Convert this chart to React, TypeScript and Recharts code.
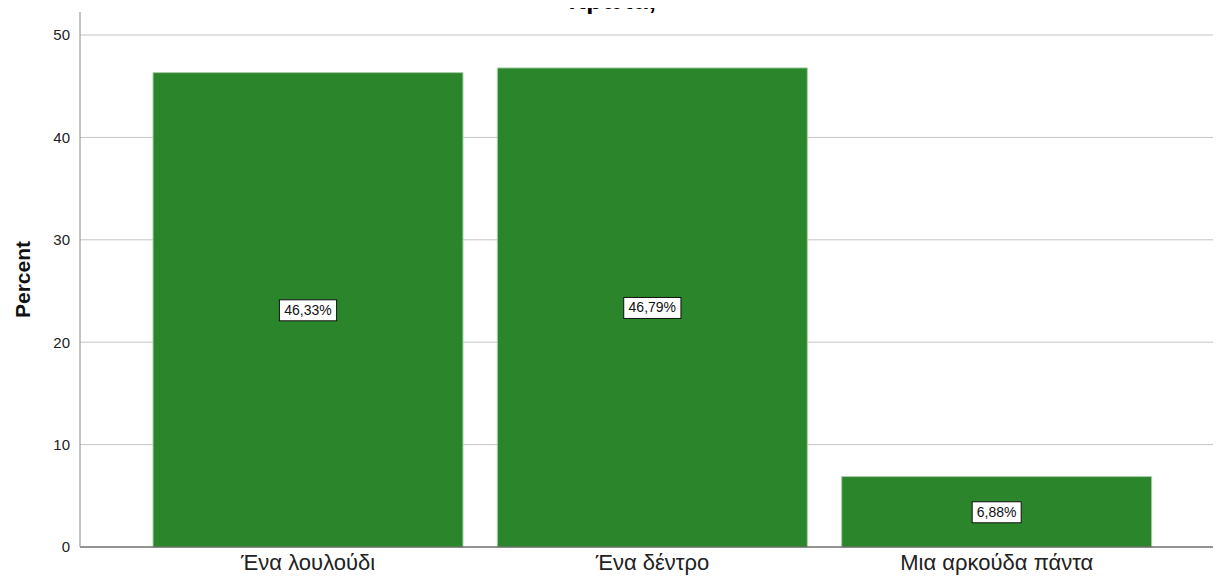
import { Bar, BarChart, CartesianGrid, LabelList, XAxis, YAxis } from "recharts";

const categories = ["Ένα λουλούδι", "Ένα δέντρο", "Μια αρκούδα πάντα"];
const percents = [46.33, 46.79, 6.88];
const yTicks = [0, 10, 20, 30, 40, 50];

const data = categories.map((name, i) => ({ name, percent: percents[i] }));

const fmt = (v: number) => v.toFixed(2).replace(".", ",") + "%";

function BoxLabel(props: any) {
  const { x, y, width, height, value } = props;
  const cx = x + width / 2;
  const cy = y + height / 2;
  const text = fmt(value);
  const w = text.length * 8.2 + 8;
  return (
    <g>
      <rect x={cx - w / 2} y={cy - 10} width={w} height={21} fill="#fff" stroke="#111" strokeWidth={1} />
      <text x={cx} y={cy + 5} textAnchor="middle" fontSize={14} fill="#111" fontFamily="Liberation Sans, Arial, sans-serif">
        {text}
      </text>
    </g>
  );
}

export default function App() {
  return (
    <div
      style={{
        margin: "-8px",
        width: 1221,
        height: 583,
        background: "#fff",
        position: "relative",
        overflow: "hidden",
        fontFamily: "Liberation Sans, Arial, sans-serif",
      }}
    >
      <BarChart width={1221} height={583} data={data} margin={{ top: 12, right: 0, bottom: 0, left: 10 }}>
        <CartesianGrid vertical={false} syncWithTicks stroke="#c4c4c4" />
        <XAxis
          dataKey="name"
          padding={{ left: 56, right: 52 }}
          tickLine={false}
          axisLine={{ stroke: "#444" }}
          tick={{ fontSize: 22, fill: "#222" }}
          tickSize={5}
          height={36}
        />
        <YAxis
          domain={[0, 52.25]}
          ticks={yTicks}
          tickLine={false}
          axisLine={{ stroke: "#888" }}
          tick={{ fontSize: 15, fill: "#222" }}
          tickSize={8}
          width={70}
          label={{
            value: "Percent",
            angle: -90,
            position: "insideLeft",
            offset: 13,
            style: { textAnchor: "middle", fontSize: 21, fontWeight: "bold", fill: "#111" },
          }}
        />
        <Bar dataKey="percent" fill="#2b862b" stroke="#a8d0a8" barSize={310} isAnimationActive={false}>
          <LabelList dataKey="percent" content={<BoxLabel />} />
        </Bar>
      </BarChart>
      <svg width={1221} height={20} style={{ position: "absolute", left: 0, top: 0, zIndex: 2 }}>
        <text x={612} y={9} textAnchor="middle" fontSize={25} fontWeight="bold" fill="#000">
          πρώτα;
        </text>
      </svg>
    </div>
  );
}
